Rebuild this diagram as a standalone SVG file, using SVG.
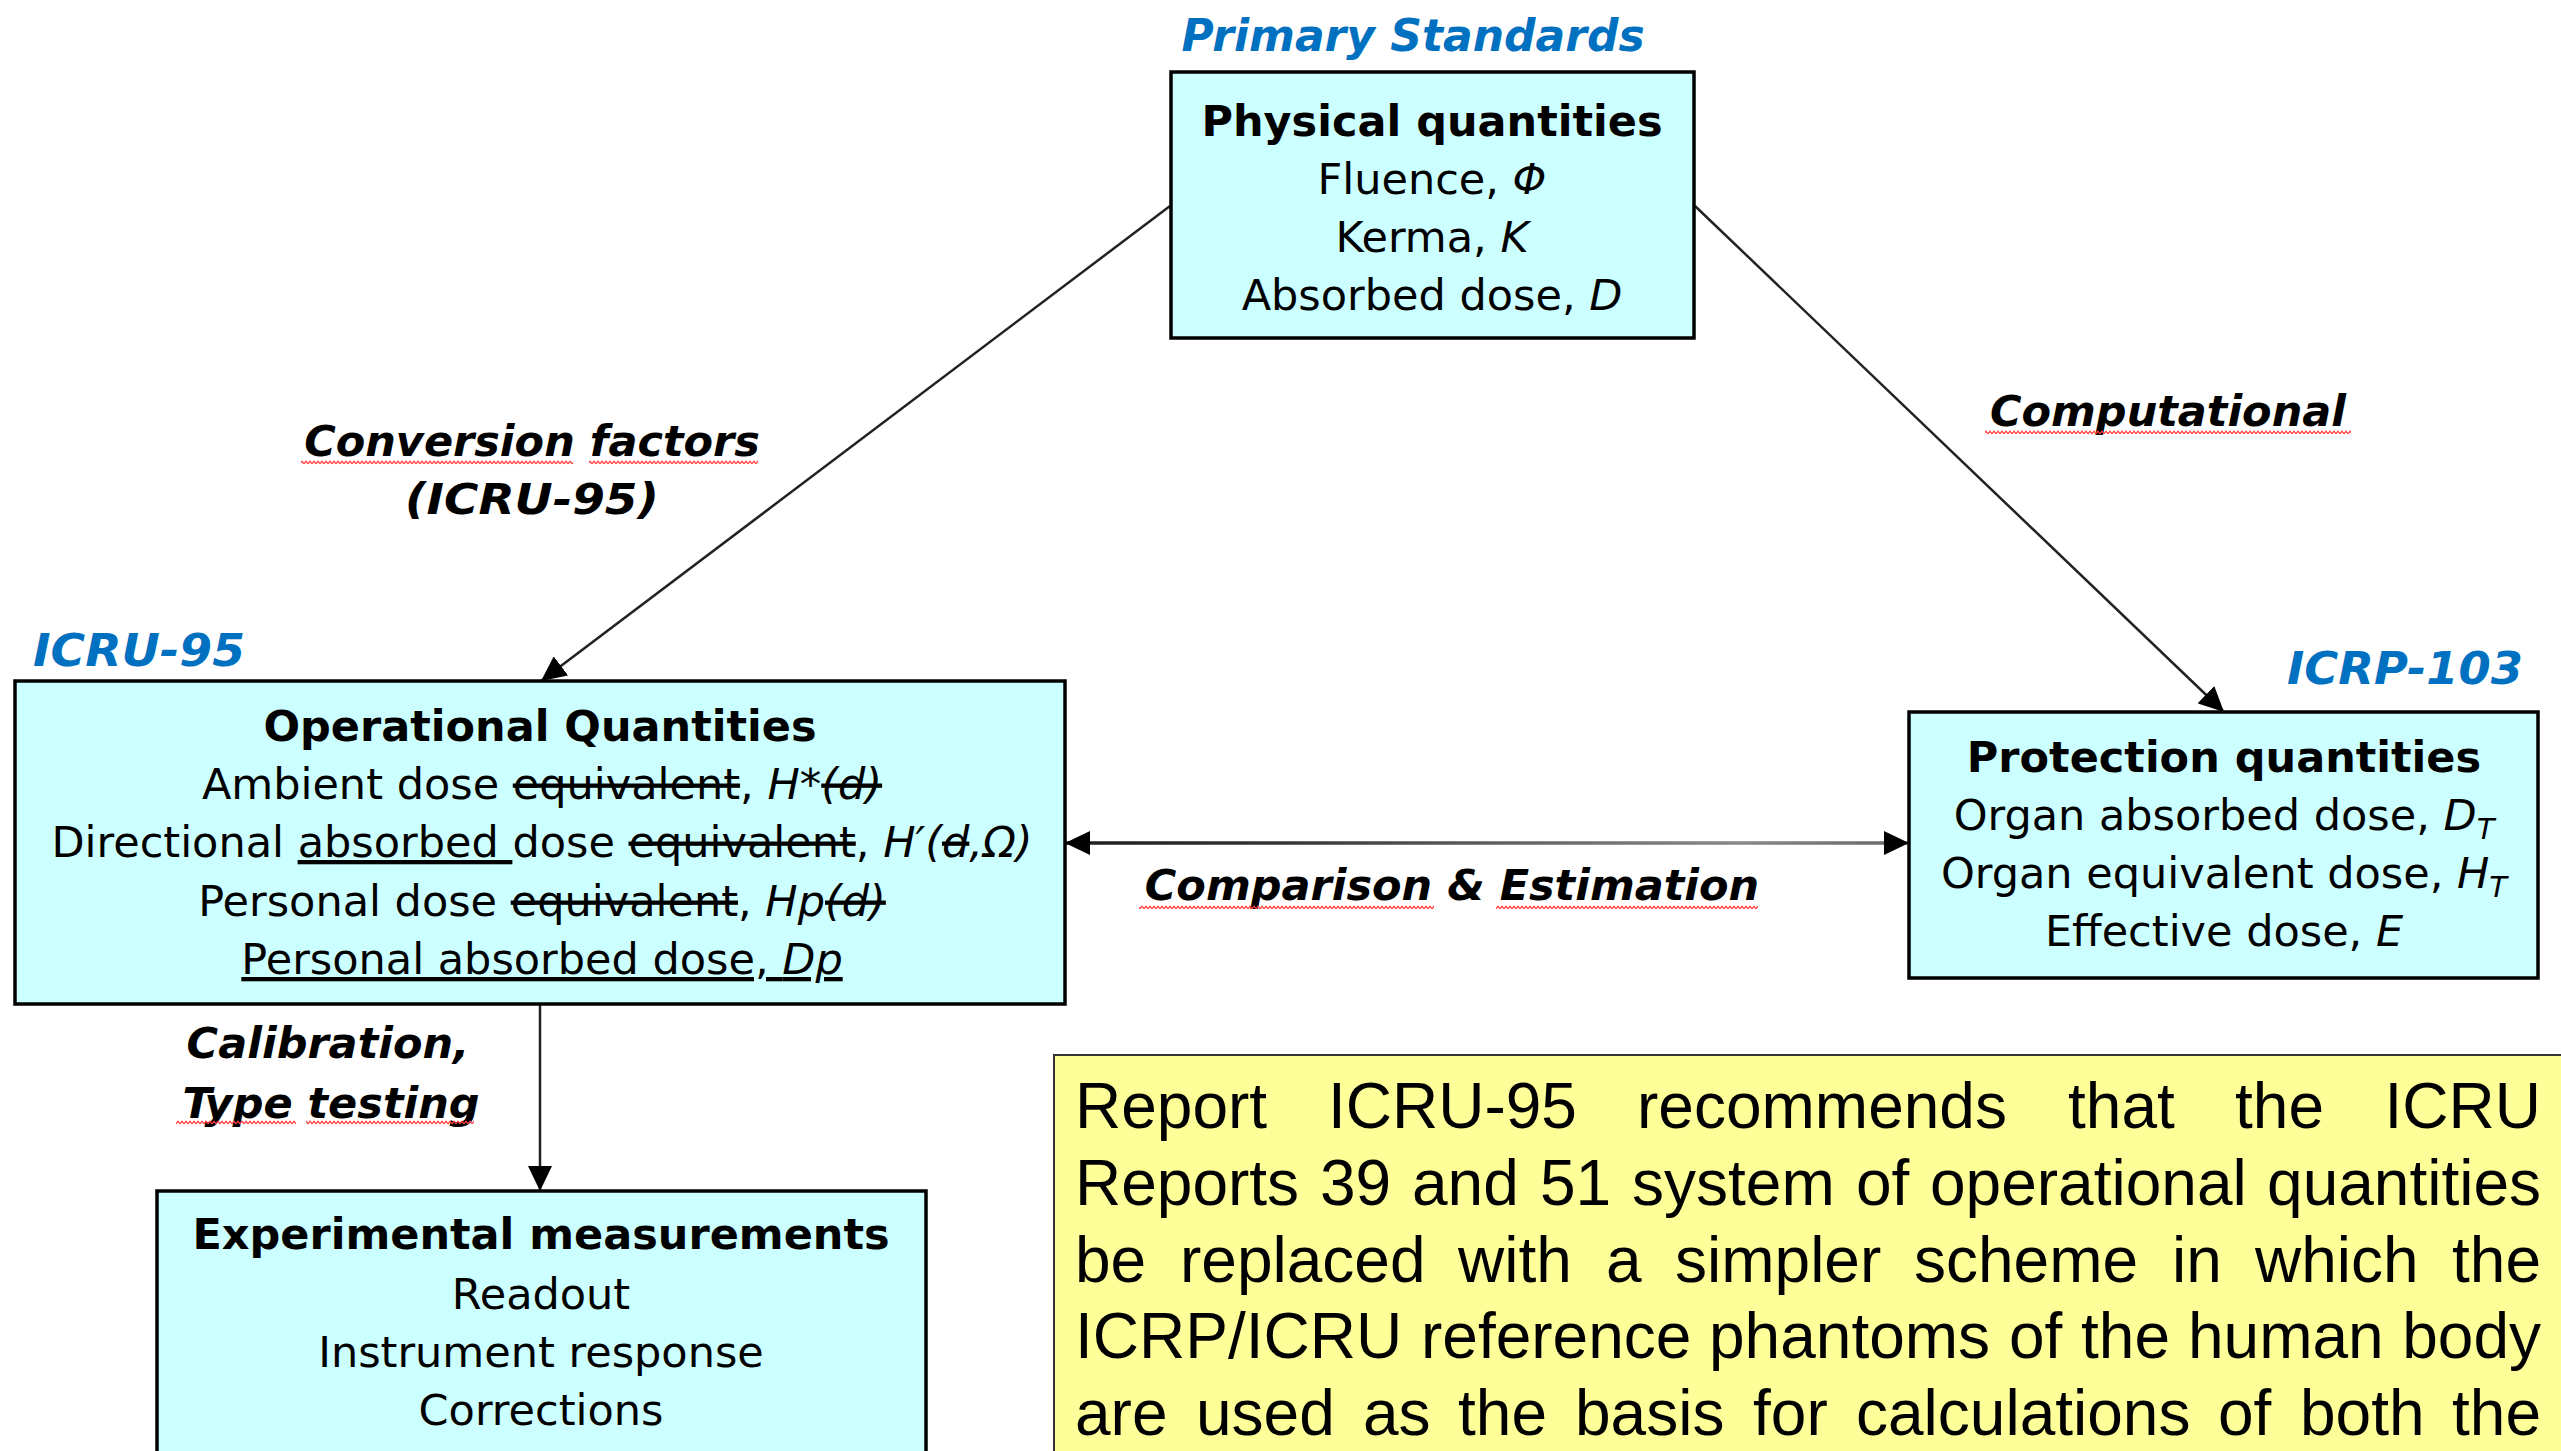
<svg xmlns="http://www.w3.org/2000/svg" width="2561" height="1451" viewBox="0 0 2561 1451">
  <defs>
    <style>
      .box { fill: #CCFFFF; stroke: #000; stroke-width: 3.5; }
      .hd { font-family: "DejaVu Sans", Verdana, sans-serif; font-weight: bold; font-size: 43px; text-anchor: middle; fill: #000; }
      .bd { font-family: "DejaVu Sans", Verdana, sans-serif; font-size: 43px; text-anchor: middle; fill: #000; }
      .it { font-style: italic; }
      .st { text-decoration: line-through; }
      .ul { text-decoration: underline; }
      .sub { font-size: 29px; }
      .lbl { font-family: "DejaVu Sans", Verdana, sans-serif; font-weight: bold; font-style: italic; font-size: 43px; text-anchor: middle; fill: #000; }
      .std { font-family: "DejaVu Sans", Verdana, sans-serif; font-weight: bold; font-style: italic; font-size: 44px; fill: #0070C0; }
      .wire { fill: none; stroke: #222; stroke-width: 2.5; }
      .note { font-family: "Liberation Sans", Arial, sans-serif; font-size: 64px; fill: #000; }
      .end { text-anchor: end; }
      .squig { fill: url(#wave); }
    </style>
    <marker id="head" viewBox="0 0 25 24" refX="25" refY="12" markerWidth="25" markerHeight="24" markerUnits="userSpaceOnUse" orient="auto-start-reverse">
      <path d="M0,0 L25,12 L0,24 Z" fill="#000"/>
    </marker>
    <pattern id="wave" width="4" height="5" patternUnits="userSpaceOnUse">
      <path d="M0,3.8 L2,1.2 L4,3.8" fill="none" stroke="#FF3B3B" stroke-width="1.3"/>
    </pattern>
    <linearGradient id="cmpLine" gradientUnits="userSpaceOnUse" x1="1065" y1="0" x2="1909" y2="0">
      <stop offset="0" stop-color="#1c1c1c"/>
      <stop offset="0.25" stop-color="#333"/>
      <stop offset="0.45" stop-color="#555"/>
      <stop offset="0.62" stop-color="#707070"/>
      <stop offset="0.8" stop-color="#888"/>
      <stop offset="1" stop-color="#666"/>
    </linearGradient>
  </defs>

  <rect width="2561" height="1451" fill="#fff"/>

  <!-- connectors and their labels -->
  <g id="connectors">
    <line class="wire" x1="1170" y1="206" x2="541" y2="681" marker-end="url(#head)"/>
    <line class="wire" x1="1695" y1="206" x2="2224" y2="712" marker-end="url(#head)"/>
    <line x1="1065" y1="843" x2="1909" y2="843" stroke="url(#cmpLine)" stroke-width="3.5" marker-start="url(#head)" marker-end="url(#head)"/>
    <line class="wire" x1="540" y1="1004" x2="540" y2="1191" stroke-width="3" marker-end="url(#head)"/>

    <text class="lbl" x="532" y="456">Conversion factors</text>
    <text class="lbl" x="532" y="514" textLength="254" lengthAdjust="spacingAndGlyphs">(ICRU-95)</text>
    <rect class="squig" x="301" y="460" width="272" height="5"/>
    <rect class="squig" x="589" y="460" width="169" height="5"/>

    <text class="lbl" x="2168" y="426">Computational</text>
    <rect class="squig" x="1985" y="430" width="366" height="5"/>

    <text class="lbl" x="1452" y="900">Comparison &amp; Estimation</text>
    <rect class="squig" x="1139" y="905" width="295" height="5"/>
    <rect class="squig" x="1496" y="905" width="262" height="5"/>

    <text class="lbl" x="328" y="1058">Calibration,</text>
    <text class="lbl" x="331" y="1118">Type testing</text>
    <rect class="squig" x="176" y="1120" width="120" height="5"/>
    <rect class="squig" x="306" y="1120" width="168" height="5"/>
  </g>

  <!-- Physical quantities (primary standards) -->
  <g id="physical">
    <text class="std" x="1413" y="51" text-anchor="middle">Primary Standards</text>
    <rect class="box" x="1171" y="72" width="523" height="266"/>
    <text class="hd" x="1432" y="136">Physical quantities</text>
    <text class="bd" x="1432" y="194">Fluence, <tspan class="it">Φ</tspan></text>
    <text class="bd" x="1432" y="252">Kerma, <tspan class="it">K</tspan></text>
    <text class="bd" x="1432" y="310">Absorbed dose, <tspan class="it">D</tspan></text>
  </g>

  <!-- Operational quantities (ICRU-95) -->
  <g id="operational">
    <text class="std" x="33" y="666" textLength="212" lengthAdjust="spacingAndGlyphs">ICRU-95</text>
    <rect class="box" x="15" y="681" width="1050" height="323"/>
    <text class="hd" x="540" y="741">Operational Quantities</text>
    <text class="bd" x="542" y="799">Ambient dose <tspan class="st">equivalent</tspan>, <tspan class="it">H*</tspan><tspan class="it st">(d)</tspan></text>
    <text class="bd" x="542" y="857">Directional <tspan class="ul">absorbed </tspan>dose <tspan class="st">equivalent</tspan>, <tspan class="it">H′(</tspan><tspan class="it st">d</tspan><tspan class="it">,Ω)</tspan></text>
    <text class="bd" x="542" y="916">Personal dose <tspan class="st">equivalent</tspan>, <tspan class="it">Hp</tspan><tspan class="it st">(d)</tspan></text>
    <text class="bd ul" x="542" y="974">Personal absorbed dose, <tspan class="it">Dp</tspan></text>
  </g>

  <!-- Protection quantities (ICRP-103) -->
  <g id="protection">
    <text class="std" x="2287" y="684" textLength="236" lengthAdjust="spacingAndGlyphs">ICRP-103</text>
    <rect class="box" x="1909" y="712" width="629" height="266"/>
    <text class="hd" x="2224" y="772">Protection quantities</text>
    <text class="bd" x="2224" y="830">Organ absorbed dose, <tspan class="it">D</tspan><tspan class="it sub" dy="9">T</tspan></text>
    <text class="bd" x="2224" y="888">Organ equivalent dose, <tspan class="it">H</tspan><tspan class="it sub" dy="9">T</tspan></text>
    <text class="bd" x="2224" y="946">Effective dose, <tspan class="it">E</tspan></text>
  </g>

  <!-- Experimental measurements -->
  <g id="experimental">
    <rect class="box" x="157" y="1191" width="769" height="300"/>
    <text class="hd" x="541" y="1249">Experimental measurements</text>
    <text class="bd" x="541" y="1309">Readout</text>
    <text class="bd" x="541" y="1367">Instrument response</text>
    <text class="bd" x="541" y="1425">Corrections</text>
  </g>

  <!-- Justified note panel -->
  <g id="note">
    <rect x="1054" y="1055" width="1540" height="430" fill="#FFFF99" stroke="#333" stroke-width="2"/>
    <g class="note">
      <text y="1128"><tspan x="1075">Report</tspan><tspan x="1328">ICRU-95</tspan><tspan x="1637">recommends</tspan><tspan x="2068">that</tspan><tspan x="2235">the</tspan></text>
      <text class="end" x="2541" y="1128">ICRU</text>

      <text y="1205"><tspan x="1075">Reports</tspan><tspan x="1320">39</tspan><tspan x="1412">and</tspan><tspan x="1540">51</tspan><tspan x="1632">system</tspan><tspan x="1856">of</tspan><tspan x="1930">operational</tspan></text>
      <text class="end" x="2541" y="1205">quantities</text>

      <text y="1282"><tspan x="1075">be</tspan><tspan x="1180">replaced</tspan><tspan x="1458">with</tspan><tspan x="1606">a</tspan><tspan x="1675">simpler</tspan><tspan x="1914">scheme</tspan><tspan x="2172">in</tspan><tspan x="2255">which</tspan></text>
      <text class="end" x="2541" y="1282">the</text>

      <text y="1358"><tspan x="1075">ICRP/ICRU</tspan><tspan x="1421">reference</tspan><tspan x="1709">phantoms</tspan><tspan x="2009">of</tspan><tspan x="2081">the</tspan><tspan x="2188">human</tspan></text>
      <text class="end" x="2541" y="1358">body</text>

      <text y="1435"><tspan x="1075">are</tspan><tspan x="1196">used</tspan><tspan x="1363">as</tspan><tspan x="1458">the</tspan><tspan x="1575">basis</tspan><tspan x="1753">for</tspan><tspan x="1856">calculations</tspan><tspan x="2218">of</tspan><tspan x="2300">both</tspan></text>
      <text class="end" x="2541" y="1435">the</text>
    </g>
  </g>
</svg>
